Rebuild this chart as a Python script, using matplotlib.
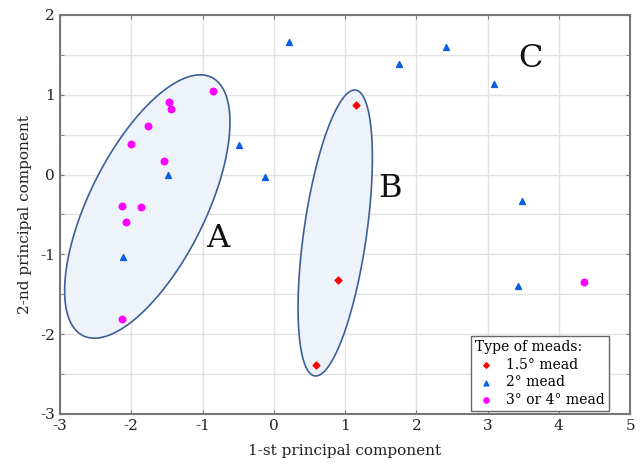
import numpy as np
import matplotlib
matplotlib.use("Agg")
import matplotlib.pyplot as plt
from matplotlib.patches import Polygon
from matplotlib.ticker import MultipleLocator

plt.rcParams['font.family'] = ['DejaVu Serif']
plt.rcParams['axes.unicode_minus'] = False

# PCA scores
mead15_x = [1.16, 0.90, 0.59]
mead15_y = [0.876, -1.32, -2.38]

mead2_x = [-1.48, -0.49, -0.12, 0.21, 1.76, 2.42, 3.09, 3.49, 3.43, -2.11]
mead2_y = [-0.01, 0.37, -0.03, 1.66, 1.38, 1.60, 1.135, -0.33, -1.40, -1.03]

mead34_x = [-0.86, -1.47, -1.44, -1.76, -2.01, -1.54, -2.13, -1.86, -2.08, -2.13, 4.35]
mead34_y = [1.048, 0.914, 0.818, 0.609, 0.38, 0.174, -0.39, -0.41, -0.60, -1.81, -1.35]

# group ellipses: centre, half extent in x and y, correlation
ell_names = ['A', 'B']
ell_cx = [-1.775, 0.862]
ell_cy = [-0.40, -0.732]
ell_hx = [1.16, 0.5215]
ell_hy = [1.65, 1.792]
ell_r = [0.64, 0.524]

group_labels = ['A', 'B', 'C']
label_x = [-0.78, 1.625, 3.597]
label_y = [-0.795, -0.174, 1.457]

fig = plt.figure(figsize=(6.41, 4.68), dpi=100)
ax = fig.add_axes([0.0936, 0.1154, 0.8894, 0.8526])

t = np.linspace(0, 2 * np.pi, 300, endpoint=False)
for cx, cy, hx, hy, r in zip(ell_cx, ell_cy, ell_hx, ell_hy, ell_r):
    ex = cx + hx * np.cos(t)
    ey = cy + hy * (r * np.cos(t) + np.sqrt(1 - r ** 2) * np.sin(t))
    ax.add_patch(Polygon(np.column_stack([ex, ey]), closed=True, facecolor='#eef3fa',
                         edgecolor='#3d5f99', lw=1.2, zorder=2))

ax.scatter(mead15_x, mead15_y, marker='D', s=12, color='#ff0000', zorder=3, label='1.5° mead')
ax.scatter(mead2_x, mead2_y, marker='^', s=18, color='#0a5ee0', zorder=3, label='2° mead')
ax.scatter(mead34_x, mead34_y, marker='o', s=22, color='#ff00ff', zorder=3, label='3° or 4° mead')

for lab, lx, ly in zip(group_labels, label_x, label_y):
    ax.text(lx, ly, lab, fontsize=23, ha='center', va='center', color='#111111')

ax.set_xlim(-3, 5)
ax.set_ylim(-3, 2)
ax.xaxis.set_major_locator(MultipleLocator(1))
ax.yaxis.set_major_locator(MultipleLocator(1))
ax.yaxis.set_minor_locator(MultipleLocator(0.5))
ax.grid(True, which='both', color='#e2e2e2', lw=1, zorder=0)
ax.set_axisbelow(True)
ax.tick_params(which='both', direction='in', top=True, right=True, length=3,
               color='#777777', labelsize=11, labelcolor='#222222')
for s in ax.spines.values():
    s.set_color('#777777')
    s.set_linewidth(1.5)

ax.set_xlabel('1-st principal component', fontsize=11, color='#222222', labelpad=8)
ax.set_ylabel('2-nd principal component', fontsize=11, color='#222222', labelpad=6)

leg = ax.legend(title='Type of meads:', loc='lower right', bbox_to_anchor=(0.9626, 0.0075),
                borderaxespad=0, fontsize=10, title_fontsize=10, fancybox=False,
                edgecolor='#666666', framealpha=1, handletextpad=0.6, borderpad=0.3,
                labelspacing=0.25, handlelength=1.6, markerscale=0.8)
leg._legend_box.align = 'left'
leg.get_frame().set_linewidth(1)

fig.savefig('out.png', dpi=100)
